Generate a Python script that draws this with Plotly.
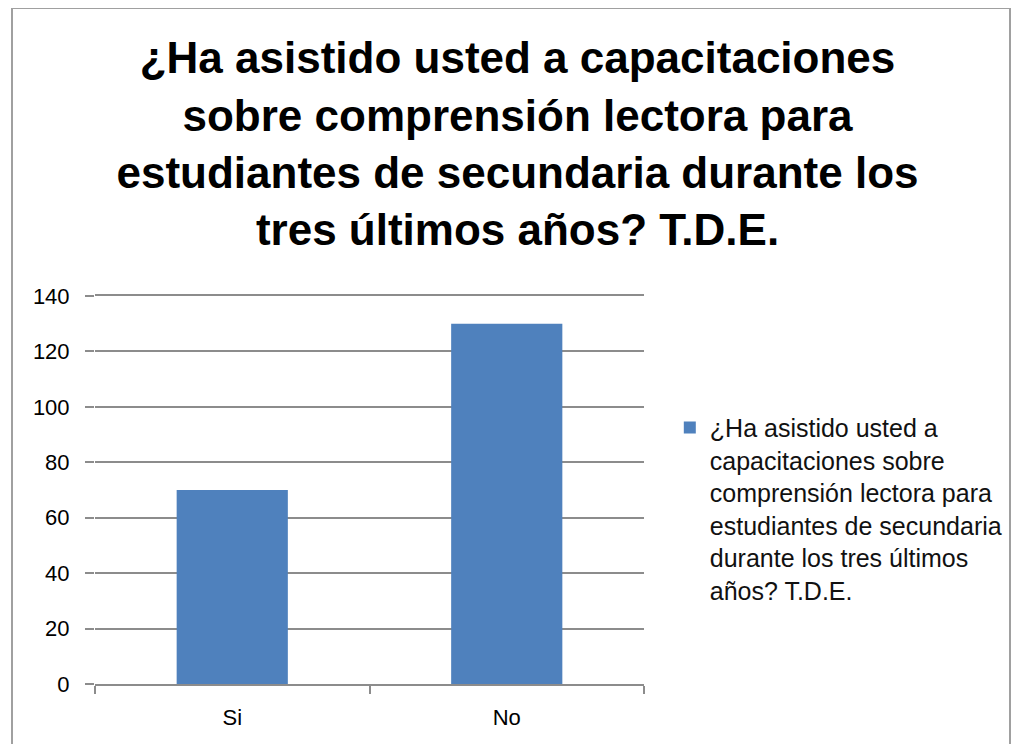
import plotly.graph_objects as go

categories = ["Si", "No"]
values = [70, 130]
series_name = ("¿Ha asistido usted a<br>capacitaciones sobre<br>comprensión lectora para<br>"
               "estudiantes de secundaria<br>durante los tres últimos<br>años? T.D.E.")
title_text = ("<b>¿Ha asistido usted a capacitaciones<br>sobre comprensión lectora para<br>"
              "estudiantes de secundaria durante los<br>tres últimos años? T.D.E.</b>")
y_ticks = [0, 20, 40, 60, 80, 100, 120, 140]

FONT = "Liberation Sans, Arial, sans-serif"
GRID = "#8c8c8c"

fig = go.Figure()
fig.add_trace(go.Bar(
    x=categories,
    y=values,
    name=series_name,
    marker=dict(color="#4f81bd", line=dict(width=0)),
    showlegend=True
))

fig.update_layout(
    width=1019,
    height=744,
    margin=dict(l=87, r=383, t=288, b=68),
    paper_bgcolor="white",
    plot_bgcolor="white",
    bargap=0.595,
    font=dict(family=FONT, color="black"),
    title=dict(
        text=title_text,
        x=0.50,
        xanchor="center",
        y=0.912,
        yanchor="top",
        font=dict(family=FONT, size=44, color="black")
    ),
    legend=dict(
        x=1.047,
        xanchor="left",
        y=0.72,
        yanchor="top",
        valign="top",
        font=dict(family=FONT, size=25, color="#111111"),
        bgcolor="rgba(0,0,0,0)"
    ),
    xaxis=dict(
        showgrid=False,
        showline=True,
        mirror=True,
        linecolor=GRID,
        linewidth=2,
        ticks="outside",
        tickson="boundaries",
        ticklen=8,
        tickwidth=2,
        tickcolor=GRID,
        ticklabelstandoff=13,
        tickfont=dict(family=FONT, size=22, color="black")
    ),
    yaxis=dict(
        range=[0, 140],
        tickvals=y_ticks,
        showgrid=True,
        gridcolor=GRID,
        gridwidth=2,
        zeroline=False,
        showline=False,
        ticks="outside",
        ticklen=9,
        tickwidth=2,
        tickcolor=GRID,
        ticklabelstandoff=11,
        tickfont=dict(family=FONT, size=22, color="black")
    ),
    shapes=[dict(
        type="rect",
        xref="paper", yref="paper",
        x0=(12 - 95) / 549, x1=(1010 - 95) / 549,
        y0=-0.3, y1=(684 - 8) / 388,
        line=dict(color="#a0a0a0", width=2),
        fillcolor="rgba(0,0,0,0)",
        layer="below"
    )]
)

fig.write_html("out.html")
